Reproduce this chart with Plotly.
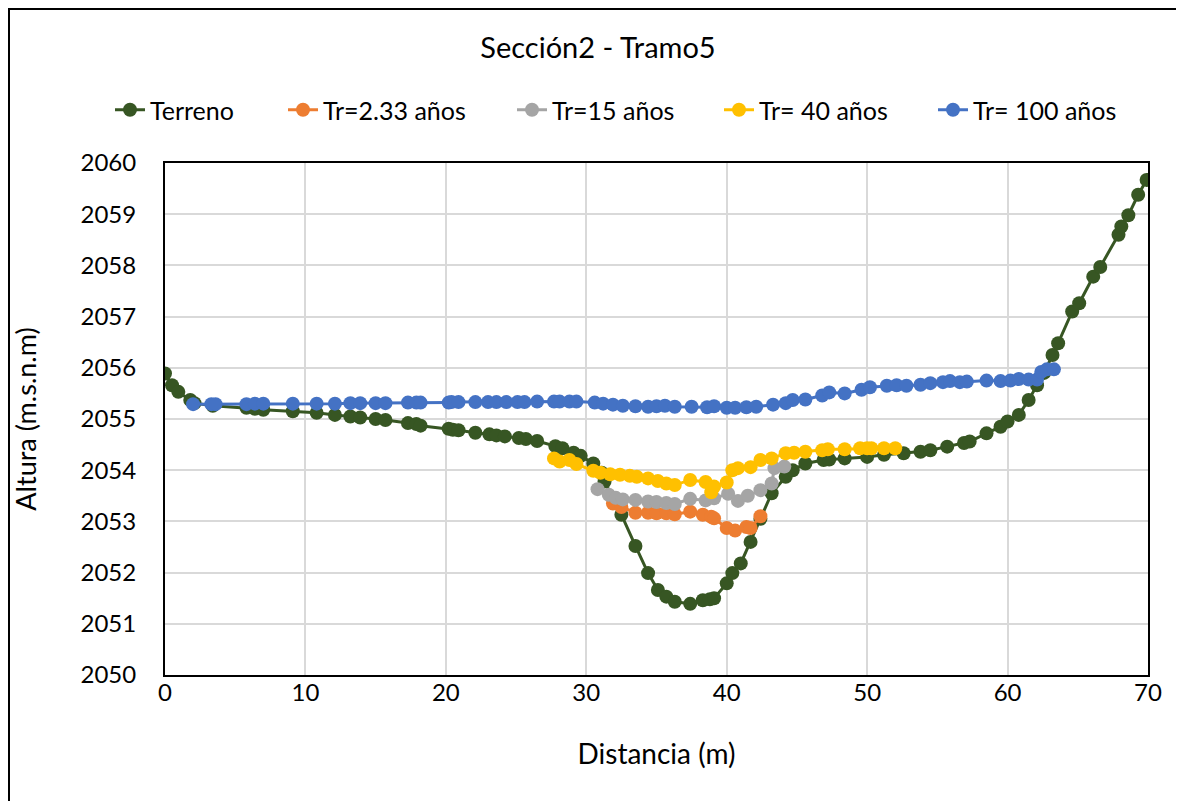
import plotly.graph_objects as go

# Terreno
terr_x = [0, 0.5, 0.95, 1.8, 2.1, 3.4, 5.8, 6.4, 7.0, 9.1, 10.8, 12.1, 13.2, 13.9, 15.0, 15.7,
          17.3, 17.9, 18.2, 20.2, 20.5, 20.9, 22.1, 23.1, 23.6, 24.2, 25.2, 25.7, 26.5, 27.8,
          28.3, 29.1, 29.6, 30.5, 31.1, 31.3, 32.5, 33.5, 34.4, 35.1, 35.7, 36.3, 37.4, 38.3,
          38.8, 39.1, 40.0, 40.4, 41.0, 41.7, 42.4, 43.2, 44.2, 44.7, 45.6, 46.9, 47.3, 48.4,
          50.0, 51.2, 52.6, 53.8, 54.5, 55.7, 56.9, 57.3, 58.5, 59.5, 60.0, 60.8, 61.5, 62.1,
          62.6, 63.2, 63.6, 64.6, 65.1, 66.1, 66.6, 67.9, 68.1, 68.6, 69.3, 69.9]
terr_y = [2055.89, 2055.66, 2055.53, 2055.37, 2055.31, 2055.26, 2055.22, 2055.20, 2055.18,
          2055.15, 2055.12, 2055.08, 2055.05, 2055.03, 2055.00, 2054.98, 2054.92, 2054.90,
          2054.87, 2054.81, 2054.79, 2054.78, 2054.73, 2054.70, 2054.68, 2054.66, 2054.63,
          2054.61, 2054.57, 2054.47, 2054.43, 2054.34, 2054.28, 2054.13, 2053.95, 2053.78,
          2053.13, 2052.52, 2051.99, 2051.66, 2051.53, 2051.43, 2051.39, 2051.46, 2051.48,
          2051.50, 2051.79, 2051.99, 2052.18, 2052.60, 2053.05, 2053.55, 2053.87, 2054.00,
          2054.13, 2054.20, 2054.21, 2054.23, 2054.26, 2054.30, 2054.33, 2054.36, 2054.39,
          2054.46, 2054.53, 2054.56, 2054.72, 2054.85, 2054.95, 2055.08, 2055.37, 2055.66,
          2055.90, 2056.25, 2056.48, 2057.10, 2057.26, 2057.78, 2057.97, 2058.60, 2058.76,
          2058.98, 2059.38, 2059.67]

# Tr=2.33 años
tr2_x = [31.9, 32.5, 33.5, 34.4, 35.0, 35.7, 36.3, 37.4, 38.3, 38.9, 39.1, 40.0, 40.6, 41.4,
         41.7, 42.4]
tr2_y = [2053.35, 2053.28, 2053.17, 2053.17, 2053.16, 2053.16, 2053.14, 2053.19, 2053.13,
         2053.09, 2053.06, 2052.87, 2052.82, 2052.89, 2052.87, 2053.10]

# Tr=15 años
tr15_x = [30.8, 31.6, 32.1, 32.6, 33.5, 34.4, 35.0, 35.7, 36.3, 37.4, 38.5, 39.1, 40.1, 40.8,
          41.5, 42.4, 43.2, 43.4, 44.1]
tr15_y = [2053.63, 2053.52, 2053.46, 2053.43, 2053.42, 2053.39, 2053.38, 2053.36, 2053.34,
          2053.44, 2053.41, 2053.45, 2053.54, 2053.40, 2053.50, 2053.61, 2053.74, 2054.04,
          2054.07]

# Tr= 40 años
tr40_x = [27.7, 28.1, 28.8, 29.3, 30.5, 31.0, 31.7, 32.4, 33.1, 33.6, 34.4, 35.1, 35.7, 36.3,
          37.4, 38.5, 38.9, 39.1, 40.0, 40.4, 40.8, 41.7, 42.4, 43.2, 44.2, 44.8, 45.6, 46.8,
          47.2, 48.4, 49.5, 50.0, 50.3, 51.2, 52.0]
tr40_y = [2054.23, 2054.17, 2054.20, 2054.12, 2053.99, 2053.95, 2053.92, 2053.91, 2053.89,
          2053.87, 2053.84, 2053.79, 2053.74, 2053.71, 2053.81, 2053.77, 2053.57, 2053.68,
          2053.76, 2054.00, 2054.04, 2054.06, 2054.20, 2054.23, 2054.33, 2054.34, 2054.36,
          2054.39, 2054.41, 2054.41, 2054.43, 2054.43, 2054.43, 2054.43, 2054.43]

# Tr= 100 años
tr100_x = [2.0, 3.3, 3.6, 5.8, 6.4, 7.0, 9.1, 10.8, 12.1, 13.2, 13.9, 15.0, 15.7, 17.3, 17.9,
           18.2, 20.2, 20.4, 20.9, 22.1, 23.0, 23.6, 24.3, 25.1, 25.6, 26.5, 27.7, 28.1, 28.8,
           29.3, 30.6, 31.2, 31.9, 32.6, 33.5, 34.4, 35.0, 35.6, 36.3, 37.5, 38.6, 39.1, 40.0,
           40.6, 41.4, 42.1, 43.3, 44.2, 44.7, 45.6, 46.8, 47.3, 48.4, 49.6, 50.2, 51.4, 52.1,
           52.8, 53.8, 54.5, 55.4, 55.9, 56.6, 57.1, 58.5, 59.5, 60.2, 60.8, 61.5, 62.1, 62.4,
           62.8, 63.3]
tr100_y = [2055.29, 2055.29, 2055.29, 2055.29, 2055.30, 2055.30, 2055.30, 2055.30, 2055.30,
           2055.31, 2055.31, 2055.31, 2055.31, 2055.32, 2055.32, 2055.32, 2055.32, 2055.33,
           2055.33, 2055.33, 2055.33, 2055.33, 2055.33, 2055.33, 2055.33, 2055.34, 2055.34,
           2055.34, 2055.34, 2055.34, 2055.32, 2055.30, 2055.28, 2055.26, 2055.25, 2055.24,
           2055.25, 2055.26, 2055.24, 2055.24, 2055.23, 2055.25, 2055.22, 2055.22, 2055.23,
           2055.24, 2055.28, 2055.31, 2055.37, 2055.38, 2055.46, 2055.52, 2055.50, 2055.57,
           2055.62, 2055.65, 2055.66, 2055.65, 2055.67, 2055.70, 2055.72, 2055.74, 2055.72,
           2055.73, 2055.75, 2055.74, 2055.75, 2055.78, 2055.77, 2055.77, 2055.92, 2055.97,
           2055.97]

x_ticks = [0, 10, 20, 30, 40, 50, 60, 70]
y_ticks = [2050, 2051, 2052, 2053, 2054, 2055, 2056, 2057, 2058, 2059, 2060]

FONT = "Lato, Carlito, sans-serif"

series = [
    ("Terreno", terr_x, terr_y, "#375623"),
    ("Tr=2.33 años", tr2_x, tr2_y, "#ED7D31"),
    ("Tr=15 años", tr15_x, tr15_y, "#A5A5A5"),
    ("Tr= 40 años", tr40_x, tr40_y, "#FFC000"),
    ("Tr= 100 años", tr100_x, tr100_y, "#4472C4"),
]
# page x where each legend entry's text starts (reference)
legend_text_x = [152, 325, 554, 761, 975]

# the page adds an 8px offset; margins are given in figure pixels
OFF = 8
W, H = 1184 - OFF, 801 - OFF
L, T = 165 - OFF, 163 - OFF
R, B = 36, 126
pw, ph = W - L - R, H - T - B

fig = go.Figure()
legends = {}
for i, (name, xs, ys, col) in enumerate(series):
    key = "legend" if i == 0 else f"legend{i + 1}"
    fig.add_trace(go.Scatter(
        x=xs, y=ys, name=name, mode="lines+markers",
        line=dict(color=col, width=3),
        marker=dict(color=col, size=14, symbol="circle"),
        legend=key,
    ))
    legends[key] = dict(
        orientation="h", xanchor="left", yanchor="middle",
        x=(legend_text_x[i] - 42 - OFF - L) / pw,
        y=1 + (163 - 110) / ph,
        font=dict(family=FONT, size=25, color="#000000"),
        bgcolor="rgba(0,0,0,0)",
    )

fig.update_layout(
    width=W, height=H, autosize=False,
    margin=dict(l=L, r=R, t=T, b=B, autoexpand=False),
    paper_bgcolor="white", plot_bgcolor="white",
    font=dict(family=FONT, size=24, color="#000000"),
    title=dict(text="Sección2 - Tramo5", x=(598 - OFF - L) / pw, xref="paper",
               xanchor="center", y=1 - (48 - OFF) / H, yref="container", yanchor="middle",
               font=dict(family=FONT, size=29, color="#000000")),
    showlegend=True,
    shapes=[dict(type="rect", xref="paper", yref="paper",
                 x0=(1 - L) / pw, x1=(W + 10 - L) / pw,
                 y0=-(B + 10) / ph, y1=1 + (T - 1) / ph,
                 line=dict(color="black", width=2), fillcolor="rgba(0,0,0,0)", layer="below")],
    **legends,
)

fig.update_xaxes(
    range=[0, 70], tickvals=x_ticks, ticktext=[str(v) for v in x_ticks],
    showgrid=True, gridcolor="#D9D9D9", gridwidth=1.5,
    showline=True, linecolor="black", linewidth=2, mirror=True,
    ticks="", zeroline=False, automargin=False, ticklabelstandoff=-5,
    title=dict(text="Distancia (m)", font=dict(family=FONT, size=28), standoff=40),
    tickfont=dict(family=FONT, size=24),
)
fig.update_yaxes(
    range=[2050, 2060], tickvals=y_ticks, ticktext=[str(v) for v in y_ticks],
    showgrid=True, gridcolor="#D9D9D9", gridwidth=1.5,
    showline=True, linecolor="black", linewidth=2, mirror=True,
    ticks="", zeroline=False, automargin=False, ticklabelstandoff=22,
    title=dict(text="Altura (m.s.n.m)", font=dict(family=FONT, size=27), standoff=36),
    tickfont=dict(family=FONT, size=24),
)

fig.write_html("out.html")
